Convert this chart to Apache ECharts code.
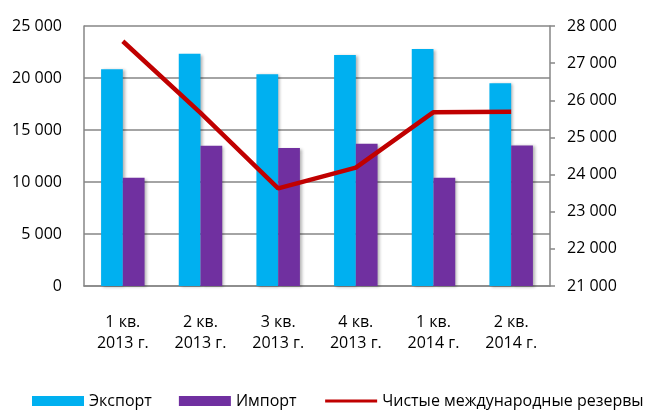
<!DOCTYPE html>
<html><head><meta charset="utf-8">
<script src="https://cdn.jsdelivr.net/npm/echarts@6/dist/echarts.min.js"></script>
<style>html,body{margin:0;padding:0;background:#fff}#c{width:648px;height:410px}</style>
</head><body><div id="c"></div>
<script>
const categories = ['1 кв.\n2013 г.', '2 кв.\n2013 г.', '3 кв.\n2013 г.', '4 кв.\n2013 г.', '1 кв.\n2014 г.', '2 кв.\n2014 г.'];
const exportValues = [20840, 22340, 20350, 22210, 22790, 19490];
const importValues = [10410, 13490, 13270, 13680, 10410, 13520];
const reservesValues = [27590, 25660, 23630, 24185, 25680, 25690];
const seriesNames = ['Экспорт', 'Импорт', 'Чистые международные резервы'];

const fmt = v => String(v).replace(/\B(?=(\d{3})+(?!\d))/g, ' ');
const font = '"Open Sans", sans-serif';
const chart = echarts.init(document.getElementById('c'));
const barShadow = {shadowBlur: 3, shadowColor: 'rgba(0,0,0,0.3)', shadowOffsetX: 2, shadowOffsetY: 1};
chart.setOption({
  animation: false,
  textStyle: {fontFamily: font},
  grid: {left: 84, right: 98, top: 26, bottom: 124},
  legend: {
    top: 393, left: 32, width: 616, padding: 0, itemWidth: 52, itemHeight: 10, itemGap: 27,
    textStyle: {fontFamily: font, fontSize: 16, color: '#000'},
    data: [
      {name: seriesNames[0], icon: 'rect'},
      {name: seriesNames[1], icon: 'rect'},
      {name: seriesNames[2], itemStyle: {opacity: 0}, lineStyle: {width: 3}}
    ]
  },
  xAxis: {
    type: 'category', data: categories,
    axisLine: {show: true, lineStyle: {color: '#868686', width: 1.5}},
    axisTick: {show: false},
    axisLabel: {fontFamily: font, fontSize: 16, color: '#000', margin: 26, lineHeight: 21}
  },
  yAxis: [
    {type: 'value', min: 0, max: 25000, interval: 5000, position: 'left',
     axisLine: {show: true, lineStyle: {color: '#868686', width: 1.5}},
     axisTick: {show: false},
     splitLine: {lineStyle: {color: '#868686', width: 1.5}},
     axisLabel: {formatter: fmt, fontFamily: font, fontSize: 16, color: '#000', margin: 22}},
    {type: 'value', min: 21000, max: 28000, interval: 1000, position: 'right',
     axisLine: {show: true, lineStyle: {color: '#868686', width: 1.5}},
     axisTick: {show: true, length: 5, lineStyle: {color: '#868686', width: 1.5}},
     splitLine: {show: false},
     axisLabel: {formatter: fmt, fontFamily: font, fontSize: 16, color: '#000', margin: 17}}
  ],
  series: [
    {name: seriesNames[0], type: 'bar', data: exportValues, barGap: '0%', barCategoryGap: '44%',
     itemStyle: Object.assign({color: '#00B0F0'}, barShadow)},
    {name: seriesNames[1], type: 'bar', data: importValues,
     itemStyle: Object.assign({color: '#7030A0'}, barShadow)},
    {name: seriesNames[2], type: 'line', yAxisIndex: 1, data: reservesValues,
     symbol: 'none', lineStyle: {color: '#C00000', width: 4.5}, itemStyle: {color: '#C00000'}}
  ]
});
</script></body></html>
